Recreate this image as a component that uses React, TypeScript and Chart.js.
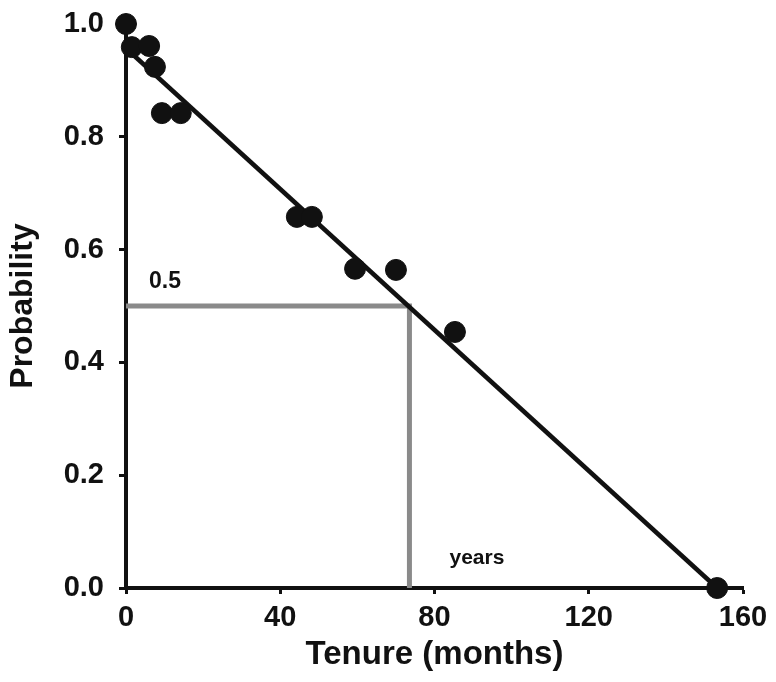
import React, { useEffect, useRef } from "react";
import { Chart, registerables } from "chart.js";

Chart.register(...registerables);

// Observed data points
const tenureMonths = [0, 1.5, 6, 7.5, 9.3, 14.2, 44.3, 48.2, 59.4, 70, 85.3, 153.3];
const probability = [1.0, 0.959, 0.961, 0.924, 0.842, 0.842, 0.658, 0.658, 0.566, 0.564, 0.454, 0.0];

// Fitted line endpoints
const fitX = [0, 153.3];
const fitY = [0.957, 0.0];

// Grey reference (median) lines
const refX = [0, 73.5, 73.5];
const refY = [0.5, 0.5, 0];

// Axis limits / steps
const xMin = 0;
const xMax = 160;
const xStep = 40;
const yMin = 0;
const yMax = 1;
const yStep = 0.2;

// Text notes on the plot
const noteTexts = ["0.5", "years"];
const noteX = [10.1, 91];
const noteY = [0.544, 0.052];
const noteSizes = [23, 21];

const FONT = "'Liberation Sans', Arial, Helvetica, sans-serif";

export default function App() {
  const canvasRef = useRef<HTMLCanvasElement | null>(null);

  useEffect(() => {
    const canvas = canvasRef.current;
    if (!canvas) return;

    const notesPlugin = {
      id: "notes",
      afterDatasetsDraw(chart: any) {
        const { ctx, scales } = chart;
        ctx.save();
        ctx.fillStyle = "#111";
        ctx.textAlign = "center";
        ctx.textBaseline = "middle";
        noteTexts.forEach((t, i) => {
          ctx.font = `bold ${noteSizes[i]}px ${FONT}`;
          ctx.fillText(t, scales.x.getPixelForValue(noteX[i]), scales.y.getPixelForValue(noteY[i]));
        });
        ctx.restore();
      },
    };

    const chart = new Chart(canvas, {
      type: "scatter",
      data: {
        datasets: [
          {
            label: "Observed",
            data: tenureMonths.map((x, i) => ({ x, y: probability[i] })),
            backgroundColor: "#111",
            borderColor: "#111",
            pointRadius: 10.5,
            pointHoverRadius: 10.5,
            showLine: false,
            clip: false,
          } as any,
          {
            label: "Fit",
            type: "line",
            data: fitX.map((x, i) => ({ x, y: fitY[i] })),
            borderColor: "#111",
            borderWidth: 4.5,
            pointRadius: 0,
            fill: false,
            clip: false,
          } as any,
          {
            label: "Median",
            type: "line",
            data: refX.map((x, i) => ({ x, y: refY[i] })),
            borderColor: "#8a8a8a",
            borderWidth: 5,
            pointRadius: 0,
            fill: false,
            clip: false,
          } as any,
        ],
      },
      options: {
        animation: false,
        responsive: false,
        maintainAspectRatio: false,
        layout: { autoPadding: false, padding: { top: 24, right: 33, left: 0, bottom: 0 } },
        plugins: { legend: { display: false }, tooltip: { enabled: false } },
        scales: {
          x: {
            type: "linear",
            min: xMin,
            max: xMax,
            afterFit: (s: any) => {
              s.height = 94;
              s.paddingLeft = 0;
              s.paddingRight = 0;
            },
            ticks: {
              stepSize: xStep,
              color: "#111",
              padding: 7,
              font: { family: FONT, size: 29, weight: "bold" },
              maxRotation: 0,
            },
            grid: {
              drawOnChartArea: false,
              drawTicks: true,
              tickLength: 6,
              tickWidth: 3,
              tickColor: "#111",
              color: "#111",
            },
            border: { display: true, color: "#111", width: 4 },
            title: {
              display: true,
              text: "Tenure (months)",
              color: "#111",
              font: { family: FONT, size: 33, weight: "bold" },
              padding: { top: 0, bottom: 7 },
            },
          },
          y: {
            type: "linear",
            min: yMin,
            max: yMax,
            afterFit: (s: any) => {
              s.width = 126;
              s.paddingTop = 0;
              s.paddingBottom = 0;
            },
            ticks: {
              stepSize: yStep,
              color: "#111",
              padding: 15,
              font: { family: FONT, size: 29, weight: "bold" },
              callback: (v: any) => Number(v).toFixed(1),
            },
            grid: {
              drawOnChartArea: false,
              drawTicks: true,
              tickLength: 7,
              tickWidth: 3,
              tickColor: "#111",
              color: "#111",
            },
            border: { display: true, color: "#111", width: 4 },
            title: {
              display: true,
              text: "Probability",
              color: "#111",
              font: { family: FONT, size: 32, weight: "bold" },
              padding: { top: 4, bottom: 0 },
            },
          },
        },
      },
      plugins: [notesPlugin],
    });

    return () => chart.destroy();
  }, []);

  return (
    <div style={{ position: "fixed", left: 0, top: 0, width: 776, height: 682, background: "#fff" }}>
      <canvas ref={canvasRef} width={776} height={682} style={{ width: 776, height: 682 }} />
    </div>
  );
}
